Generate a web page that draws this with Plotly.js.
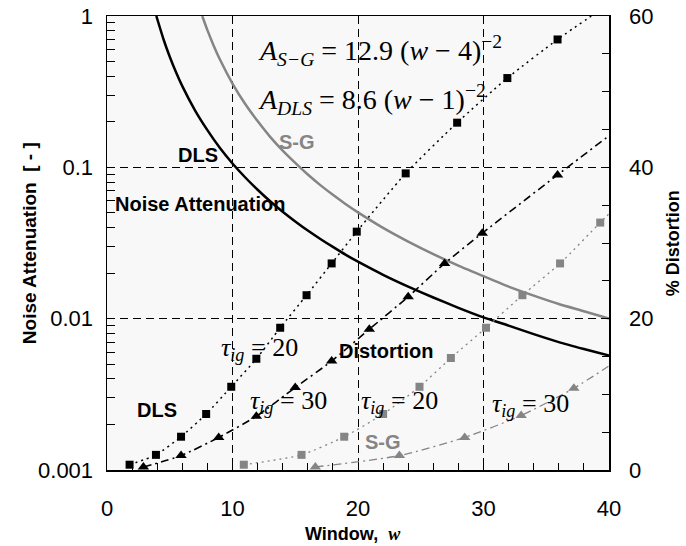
<!DOCTYPE html>
<html>
<head>
<meta charset="utf-8">
<script src="https://cdn.plot.ly/plotly-3.0.1.min.js"></script>
<style>
  html, body { margin: 0; padding: 0; background: #ffffff; }
  #chart { width: 686px; height: 546px; }
</style>
</head>
<body>
<div id="chart"></div>
<script>
// ---- Noise attenuation curves (left log axis) ----
var dlsNoiseW = [3.93, 4.5, 5, 5.5, 6, 7, 8, 9, 10, 11, 12, 13, 14, 15, 16, 17, 18, 19, 20, 22, 24, 26, 28, 30, 32, 34, 36, 38, 40];
var dlsNoiseA = [1.0, 0.702, 0.538, 0.425, 0.344, 0.239, 0.176, 0.134, 0.106, 0.086, 0.0711, 0.0597, 0.0509, 0.0439, 0.0382, 0.0336, 0.0298, 0.0265, 0.0238, 0.0195, 0.0163, 0.0138, 0.0118, 0.0102, 0.0090, 0.0079, 0.0070, 0.0063, 0.0057];
var sgNoiseW = [7.59, 8, 8.5, 9, 10, 11, 12, 13, 14, 15, 16, 17, 18, 19, 20, 22, 24, 26, 28, 30, 32, 34, 36, 38, 40];
var sgNoiseA = [1.0, 0.806, 0.637, 0.516, 0.358, 0.263, 0.202, 0.159, 0.129, 0.107, 0.0896, 0.0763, 0.0658, 0.0573, 0.0504, 0.0398, 0.0323, 0.0267, 0.0224, 0.0191, 0.0163, 0.0142, 0.0125, 0.0112, 0.0100];

// ---- Distortion (right axis, %) ----
var dlsT20W = [1.8, 3.9, 5.9, 7.9, 9.9, 11.9, 13.8, 15.9, 17.9, 19.9, 23.8, 27.9, 31.9, 35.9];
var dlsT20D = [0.7, 2.0, 4.4, 7.4, 11.0, 14.7, 18.8, 23.1, 27.3, 31.5, 39.2, 45.9, 51.8, 56.9];
var dlsT20EndW = [39.3], dlsT20EndD = [60.8];

var dlsT30W = [2.9, 5.9, 8.9, 11.9, 15.0, 17.9, 20.9, 24.0, 26.9, 29.9, 35.9];
var dlsT30D = [0.4, 1.9, 4.3, 7.1, 10.9, 14.4, 18.6, 22.9, 27.3, 31.3, 39.0];
var dlsT30EndW = [40.5], dlsT30EndD = [44.8];

var sgT20W = [10.9, 15.5, 18.9, 22.0, 24.9, 27.4, 30.2, 33.1, 36.1, 39.3];
var sgT20D = [0.7, 2.0, 4.4, 7.4, 11.0, 14.8, 18.8, 23.1, 27.3, 32.7];
var sgT20EndW = [40.2], sgT20EndD = [34.2];

var sgT30W = [16.6, 23.3, 28.5, 33.0, 37.2];
var sgT30D = [0.4, 1.9, 4.3, 7.2, 10.8];
var sgT30EndW = [40.5], sgT30EndD = [14.3];

// ---- ticks ----
var xTicks = [0, 10, 20, 30, 40];
var yDecades = [0.001, 0.01, 0.1, 1];
var yDecadeLabels = ['0.001', '0.01', '0.1', '1'];
var y2Ticks = [0, 20, 40, 60];

var BLACK = '#000000', GRAY = '#858585';
var DOT = '2px,4px', DASHDOT = '8px,4px,2px,4px';

// log tick positions (major + minor, labels only at decades)
var yTickVals = [], yTickText = [];
for (var d = 0; d < 3; d++) {
  for (var m = 1; m <= 9; m++) {
    var v = yDecades[d] * m;
    yTickVals.push(v);
    yTickText.push(m === 1 ? yDecadeLabels[d] : '');
  }
}
yTickVals.push(yDecades[3]); yTickText.push(yDecadeLabels[3]);

function lineTrace(xs, ys, color, dash, width) {
  return {x: xs, y: ys, type: 'scatter', mode: 'lines', yaxis: 'y2', hoverinfo: 'skip',
          line: {color: color, dash: dash, width: width, shape: 'spline', smoothing: 0.6}};
}
function markerTrace(xs, ys, color, symbol, size) {
  return {x: xs, y: ys, type: 'scatter', mode: 'markers', yaxis: 'y2', hoverinfo: 'skip',
          marker: {color: color, symbol: symbol, size: size, line: {width: 0}}};
}

var traces = [
  {x: dlsNoiseW, y: dlsNoiseA, type: 'scatter', mode: 'lines', line: {color: BLACK, width: 2.5, shape: 'spline', smoothing: 0.5}},
  {x: sgNoiseW, y: sgNoiseA, type: 'scatter', mode: 'lines', line: {color: GRAY, width: 2.5, shape: 'spline', smoothing: 0.5}},
  lineTrace(dlsT20W.concat(dlsT20EndW), dlsT20D.concat(dlsT20EndD), BLACK, DOT, 1.5),
  lineTrace(dlsT30W.concat(dlsT30EndW), dlsT30D.concat(dlsT30EndD), BLACK, DASHDOT, 1.6),
  lineTrace(sgT20W.concat(sgT20EndW), sgT20D.concat(sgT20EndD), GRAY, DOT, 1.3),
  lineTrace(sgT30W.concat(sgT30EndW), sgT30D.concat(sgT30EndD), GRAY, DASHDOT, 1.3),
  markerTrace(dlsT20W, dlsT20D, BLACK, 'square', 8),
  markerTrace(dlsT30W, dlsT30D, BLACK, 'triangle-up', 10),
  markerTrace(sgT20W, sgT20D, GRAY, 'square', 8),
  markerTrace(sgT30W, sgT30D, GRAY, 'triangle-up', 10)
];

var SANS = 'Arial, Liberation Sans, sans-serif';
var SERIF = 'Times New Roman, Liberation Serif, serif';

function boldLabel(text, x, y, color, xanchor) {
  return {text: '<b>' + text + '</b>', x: x, y: y, xref: 'x', yref: 'y2', showarrow: false,
          xanchor: xanchor || 'center', yanchor: 'middle', font: {family: SANS, size: 20, color: color}};
}
function mathLabel(text, x, y, size) {
  return {text: text, x: x, y: y, xref: 'x', yref: 'y2', showarrow: false,
          xanchor: 'left', yanchor: 'middle', font: {family: SERIF, size: size, color: BLACK}};
}

var tau20 = '<i>τ</i><sub><i>ig</i></sub> = 20';
var tau30 = '<i>τ</i><sub><i>ig</i></sub> = 30';

var annotations = [
  mathLabel('<i>A</i><sub><i>S−G</i></sub> = 12.9 (<i>w</i> − 4)<sup>−2</sup>', 11.9, 55.5, 28),
  mathLabel('<i>A</i><sub><i>DLS</i></sub> = 8.6 (<i>w</i> − 1)<sup>−2</sup>', 11.9, 48.9, 28),
  boldLabel('S-G', 15.1, 43.3, GRAY),
  boldLabel('DLS', 7.25, 41.6, BLACK),
  boldLabel('Noise Attenuation', 0.45, 35.2, BLACK, 'left'),
  boldLabel('Distortion', 18.3, 15.7, BLACK, 'left'),
  boldLabel('DLS', 4.0, 7.9, BLACK),
  boldLabel('S-G', 22.0, 3.7, GRAY),
  mathLabel(tau20, 8.95, 16.0, 26),
  mathLabel(tau30, 11.2, 9.0, 26),
  mathLabel(tau20, 20.1, 9.0, 26),
  mathLabel(tau30, 30.5, 8.6, 26),
  {text: '<b>Noise Attenuation  [ - ]</b>', xref: 'paper', yref: 'paper', x: -0.155, y: 0.5,
   textangle: -90, showarrow: false, xanchor: 'center', yanchor: 'middle',
   font: {family: SANS, size: 19, color: BLACK}},
  {text: '<b>% Distortion</b>', xref: 'paper', yref: 'paper', x: 1.128, y: 0.5,
   textangle: -90, showarrow: false, xanchor: 'center', yanchor: 'middle',
   font: {family: SANS, size: 18, color: BLACK}},
  {text: '<b>Window,  </b><span style="font-family:Liberation Serif"><b><i>w</i></b></span>',
   xref: 'paper', yref: 'paper', x: 0.49, y: -0.142, showarrow: false,
   xanchor: 'center', yanchor: 'middle', font: {family: SANS, size: 18, color: BLACK}}
];

var layout = {
  width: 686, height: 546,
  margin: {l: 107, r: 77, t: 16, b: 76, pad: 0},
  paper_bgcolor: '#ffffff',
  plot_bgcolor: '#f8f8f8',
  showlegend: false,
  font: {family: SANS, size: 22, color: BLACK},
  xaxis: {
    range: [0, 40], tickmode: 'array', tickvals: xTicks, ticktext: xTicks.map(String),
    ticks: 'inside', ticklen: 7, tickwidth: 1, tickcolor: BLACK,
    minor: {dtick: 2, tick0: 0, ticks: 'inside', ticklen: 7, tickwidth: 1, tickcolor: BLACK, showgrid: false},
    showgrid: true, gridcolor: BLACK, gridwidth: 1, griddash: '8px,5px',
    zeroline: false, showline: true, linecolor: BLACK, linewidth: 1.5, mirror: true,
    tickfont: {family: SANS, size: 22, color: BLACK}, ticklabelstandoff: 18
  },
  yaxis: {
    type: 'log', range: [-3, 0], tickmode: 'array', tickvals: yTickVals, ticktext: yTickText,
    ticks: 'inside', ticklen: 8, tickwidth: 1, tickcolor: BLACK,
    showgrid: false, zeroline: false, showline: true, linecolor: BLACK, linewidth: 1.5, mirror: true,
    tickfont: {family: SANS, size: 22, color: BLACK}, ticklabelstandoff: 8
  },
  yaxis2: {
    overlaying: 'y', side: 'right', range: [0, 60], tickmode: 'array', tickvals: y2Ticks,
    ticktext: y2Ticks.map(String),
    ticks: 'inside', ticklen: 7, tickwidth: 1, tickcolor: BLACK,
    minor: {dtick: 5, tick0: 0, ticks: 'inside', ticklen: 7, tickwidth: 1, tickcolor: BLACK, showgrid: false},
    showgrid: true, gridcolor: BLACK, gridwidth: 1, griddash: '8px,5px',
    zeroline: false, showline: true, linecolor: BLACK, linewidth: 1.5,
    tickfont: {family: SANS, size: 22, color: BLACK}, ticklabelstandoff: 14
  },
  annotations: annotations
};

Plotly.newPlot('chart', traces, layout, {staticPlot: true, displayModeBar: false});
</script>
</body>
</html>
